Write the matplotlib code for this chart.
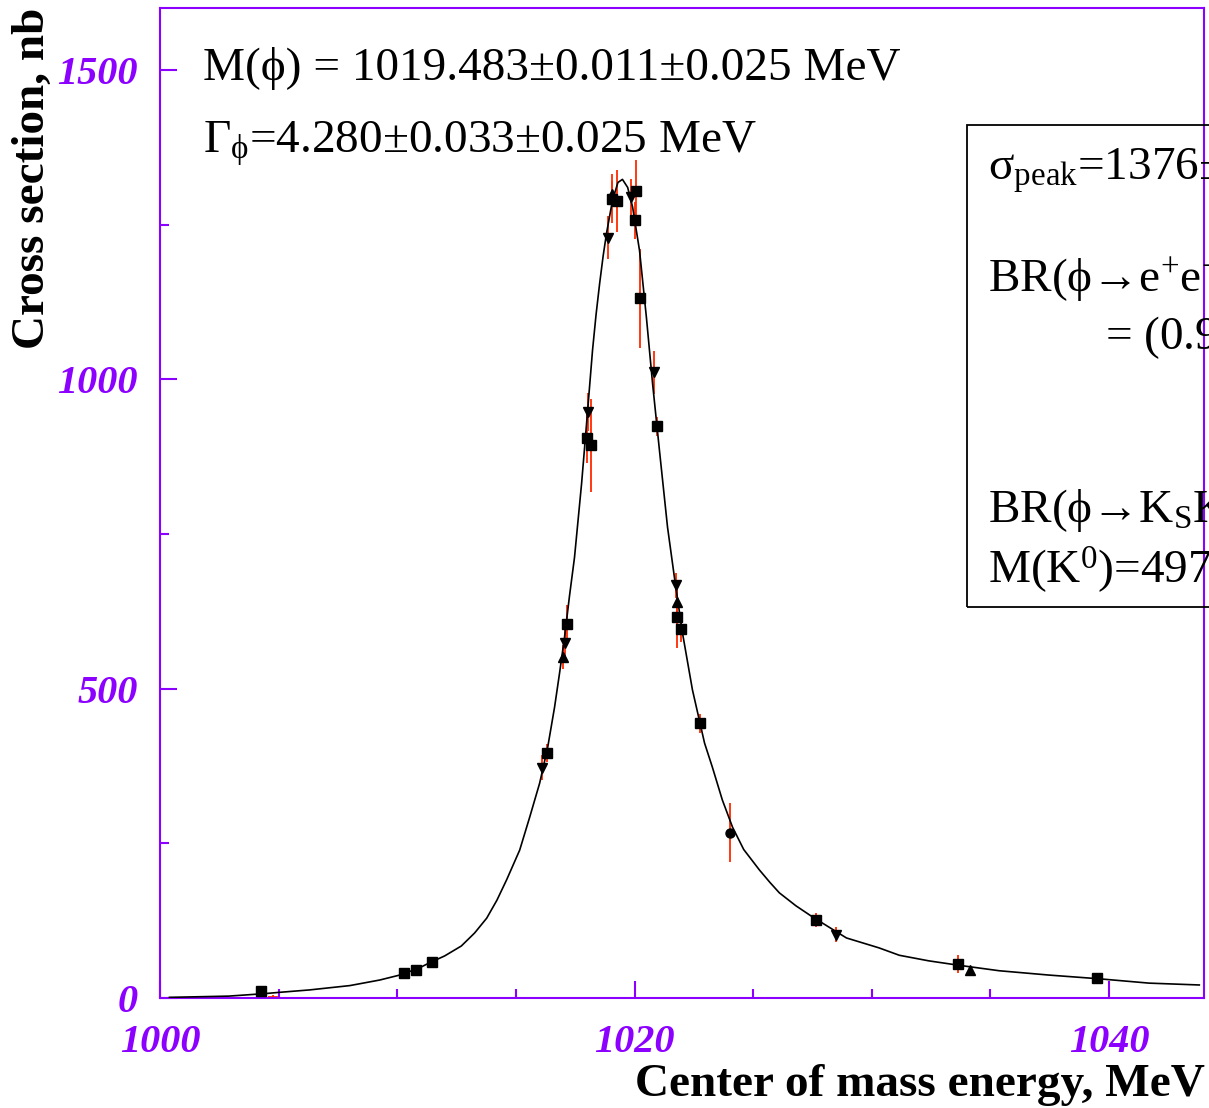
import matplotlib
matplotlib.use("Agg")
import matplotlib.pyplot as plt
from matplotlib.patches import Rectangle
from matplotlib.ticker import MultipleLocator

plt.rcParams['font.family'] = ['Liberation Serif', 'DejaVu Serif']
plt.rcParams['mathtext.fontset'] = 'custom'
plt.rcParams['mathtext.rm'] = 'Liberation Serif'
plt.rcParams['mathtext.it'] = 'Liberation Serif:italic'
plt.rcParams['mathtext.bf'] = 'Liberation Serif:bold'

VIOLET = '#8c00ff'

# fit curve
fit_e = [1000.4, 1002.9, 1004.4, 1005.0, 1006.3, 1008.0, 1009.26, 1010.1, 1010.9,
         1011.37, 1012.0, 1012.7, 1013.26, 1013.77, 1014.2, 1014.61, 1015.16,
         1015.58, 1016.0, 1016.34, 1016.63, 1016.84, 1017.05, 1017.26, 1017.47,
         1017.77, 1017.98, 1018.23, 1018.38, 1018.53, 1018.68, 1018.82, 1019.07,
         1019.3, 1019.49, 1019.71, 1019.92, 1020.21, 1020.5, 1020.76, 1021.05,
         1021.39, 1021.68, 1022.02, 1022.44, 1022.95, 1023.28, 1023.7, 1024.13,
         1024.6, 1025.26, 1025.7, 1026.1, 1026.8, 1027.5, 1028.93, 1030.3,
         1031.16, 1032.4, 1033.64, 1035.37, 1037.47, 1039.58, 1041.68, 1043.8]
fit_sigma = [1, 3, 7, 9, 13, 20, 29, 37, 48,
             57, 68, 84, 105, 129, 158, 191, 239,
             292, 347, 405, 470, 525, 583, 650, 712,
             832, 929, 1047, 1105, 1155, 1200, 1236, 1289,
             1318, 1323, 1310, 1278, 1208, 1100, 993, 885,
             761, 680, 590, 498, 412, 373, 320, 276,
             240, 207, 187, 170, 149, 131, 97, 81,
             69, 60, 53, 44, 37, 31, 24, 21]

# data points by marker type: energy (MeV), cross section (nb), error (nb)
sq_e = [1004.25, 1010.3, 1010.8, 1011.45, 1016.3, 1017.15, 1018.0, 1018.15,
        1019.03, 1019.24, 1020.0, 1020.08, 1020.21, 1020.95, 1021.81, 1021.94,
        1022.74, 1027.66, 1033.65, 1039.5]
sq_s = [11, 40, 45, 58, 396, 605, 905, 893,
        1292, 1288, 1257, 1304, 1131, 924, 616, 596,
        444, 126, 55, 32]
sq_err = [3, 2, 2, 3, 15, 30, 40, 75,
          40, 50, 30, 50, 80, 15, 50, 20,
          15, 12, 15, 3]

dn_e = [1016.08, 1017.09, 1018.04, 1018.9, 1019.83, 1020.84, 1021.73, 1028.5]
dn_s = [372, 573, 947, 1229, 1294, 1011, 667, 102]
dn_err = [20, 25, 30, 35, 30, 35, 20, 12]

up_e = [1017.0, 1019.07, 1021.81, 1034.15]
up_s = [551, 1300, 640, 45]
up_err = [20, 20, 20, 3]

ci_e = [1024.04]
ci_s = [267]
ci_err = [48]

cross_e = [1004.76]
cross_s = [2]
cross_err = [3]

fig = plt.figure(figsize=(12.09, 11.08), dpi=100)
ax = fig.add_axes([0.1323, 0.0993, 0.8636, 0.8935])

ax.plot(fit_e, fit_sigma, color='black', lw=1.2, zorder=3)

for e, s, err, m in [(sq_e, sq_s, sq_err, 's'), (dn_e, dn_s, dn_err, 'v'),
                     (up_e, up_s, up_err, '^'), (ci_e, ci_s, ci_err, 'o')]:
    ax.errorbar(e, s, yerr=err, fmt='none', ecolor='#ff2a00', elinewidth=1.3, zorder=2)
    ax.plot(e, s, linestyle='none', marker=m, color='black', ms=6.5, zorder=4)
ax.errorbar(cross_e, cross_s, yerr=cross_err, xerr=0.2, fmt='none',
            ecolor='#ff2a00', elinewidth=1.3, zorder=2)

ax.set_xlim(1000, 1044)
ax.set_ylim(0, 1600)
ax.xaxis.set_major_locator(MultipleLocator(20))
ax.xaxis.set_minor_locator(MultipleLocator(5))
ax.yaxis.set_major_locator(MultipleLocator(500))
ax.yaxis.set_minor_locator(MultipleLocator(250))

for sp in ax.spines.values():
    sp.set_color(VIOLET)
    sp.set_linewidth(1.5)
ax.tick_params(which='both', direction='in', color=VIOLET, width=1.5,
               labelcolor=VIOLET, top=False, right=False)
ax.tick_params(which='major', length=12)
ax.tick_params(which='minor', length=6.5)
ax.tick_params(axis='y', pad=16)
ax.tick_params(axis='x', pad=19)
for lab in ax.get_xticklabels() + ax.get_yticklabels():
    lab.set_fontsize(29)
    lab.set_fontweight('bold')
    lab.set_fontstyle('italic')

fig.text(0.997, 1 - 1085 / 1108, 'Center of mass energy, MeV', ha='right', va='center',
         fontsize=34, fontweight='bold')
fig.text(0.027, 1 - 8 / 1108, 'Cross section, nb', rotation=90, ha='center', va='top',
         fontsize=34, fontweight='bold')

fig.text(0.168, 1 - 80 / 1108, 'M(ϕ) = 1019.483±0.011±0.025 MeV', fontsize=34,
         va='baseline')
fig.text(0.168, 1 - 153 / 1108, 'Γ$_{\\mathrm{ϕ}}$=4.280±0.033±0.025 MeV', fontsize=34,
         va='baseline')

# the info box runs past the right edge of the figure, as in the original
fig.add_artist(Rectangle((967 / 1209, 1 - 607 / 1108), 0.3, (607 - 125) / 1108,
                         transform=fig.transFigure, fill=False, ec='black', lw=1.3))
fig.text(988 / 1209, 1 - 180 / 1108, 'σ$_{\\mathrm{peak}}$=1376±11±40 nb', fontsize=34,
         va='baseline')
fig.text(988 / 1209, 1 - 292 / 1108, 'BR(ϕ→e$^{+}$e$^{-}$)×BR(ϕ→K$_{\\mathrm{S}}$K$_{\\mathrm{L}}$)',
         fontsize=34, va='baseline')
fig.text(1105 / 1209, 1 - 350 / 1108, '= (0.998±0.016)×10$^{-4}$', fontsize=34,
         va='baseline')
fig.text(988 / 1209, 1 - 522 / 1108, 'BR(ϕ→K$_{\\mathrm{S}}$K$_{\\mathrm{L}}$)=0.336', fontsize=34,
         va='baseline')
fig.text(988 / 1209, 1 - 583 / 1108, 'M(K$^{0}$)=497.6 MeV', fontsize=34,
         va='baseline')

fig.savefig('out.png', dpi=100)
